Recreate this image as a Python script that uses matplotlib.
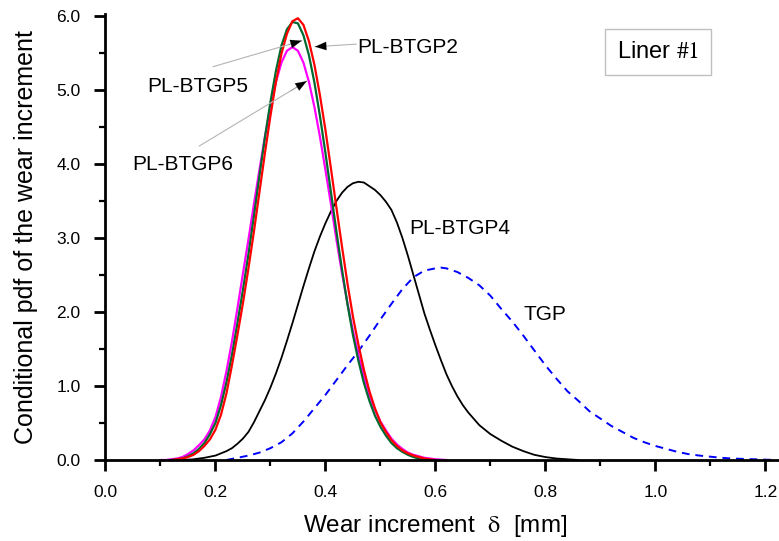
import matplotlib
matplotlib.use('Agg')
import matplotlib.pyplot as plt
from matplotlib.ticker import MultipleLocator, FormatStrFormatter

plt.rcParams['font.family'] = ['Liberation Sans', 'DejaVu Sans']
plt.rcParams['mathtext.fontset'] = 'stix'

# conditional pdf curves, wear increment delta [mm] vs density
x_btgp2 = [0.12, 0.13, 0.14, 0.15, 0.16, 0.17, 0.18, 0.19, 0.20, 0.21, 0.22, 0.23, 0.24,
           0.25, 0.26, 0.27, 0.28, 0.29, 0.30, 0.31, 0.32, 0.33, 0.34, 0.35, 0.36, 0.37,
           0.38, 0.39, 0.40, 0.41, 0.42, 0.43, 0.44, 0.45, 0.46, 0.47, 0.48, 0.49, 0.50,
           0.51, 0.52, 0.53, 0.54, 0.55, 0.56, 0.57, 0.58, 0.59, 0.60]
y_btgp2 = [0.00, 0.01, 0.02, 0.04, 0.07, 0.12, 0.19, 0.28, 0.41, 0.61, 0.90, 1.28, 1.69,
           2.12, 2.59, 3.09, 3.62, 4.15, 4.65, 5.11, 5.49, 5.76, 5.93, 5.97, 5.88, 5.66,
           5.34, 4.93, 4.46, 3.94, 3.41, 2.89, 2.39, 1.94, 1.56, 1.22, 0.93, 0.70, 0.51,
           0.38, 0.27, 0.19, 0.13, 0.09, 0.06, 0.04, 0.02, 0.01, 0.00]

x_btgp5 = [0.12, 0.13, 0.14, 0.15, 0.16, 0.17, 0.18, 0.19, 0.20, 0.21, 0.22, 0.23, 0.24,
           0.25, 0.26, 0.27, 0.28, 0.29, 0.30, 0.31, 0.32, 0.33, 0.34, 0.35, 0.36, 0.37,
           0.38, 0.39, 0.40, 0.41, 0.42, 0.43, 0.44, 0.45, 0.46, 0.47, 0.48, 0.49, 0.50,
           0.51, 0.52, 0.53, 0.54, 0.55, 0.56, 0.57, 0.58, 0.59]
y_btgp5 = [0.00, 0.01, 0.02, 0.05, 0.09, 0.15, 0.23, 0.35, 0.50, 0.74, 1.05, 1.42, 1.85,
           2.30, 2.78, 3.30, 3.84, 4.36, 4.84, 5.26, 5.60, 5.82, 5.92, 5.90, 5.74, 5.47,
           5.10, 4.65, 4.15, 3.62, 3.09, 2.58, 2.11, 1.69, 1.34, 1.04, 0.80, 0.60, 0.45,
           0.33, 0.23, 0.16, 0.11, 0.07, 0.04, 0.02, 0.01, 0.00]

x_btgp6 = [0.10, 0.11, 0.12, 0.13, 0.14, 0.15, 0.16, 0.17, 0.18, 0.19, 0.20, 0.21, 0.22,
           0.23, 0.24, 0.25, 0.26, 0.27, 0.28, 0.29, 0.30, 0.31, 0.32, 0.33, 0.34, 0.35,
           0.36, 0.37, 0.38, 0.39, 0.40, 0.41, 0.42, 0.43, 0.44, 0.45, 0.46, 0.47, 0.48,
           0.49, 0.50, 0.51, 0.52, 0.53, 0.54, 0.55, 0.56, 0.57, 0.58, 0.59, 0.60, 0.61, 0.62]
y_btgp6 = [0.00, 0.00, 0.01, 0.02, 0.04, 0.08, 0.13, 0.20, 0.28, 0.40, 0.58, 0.85, 1.20,
           1.60, 2.05, 2.52, 2.98, 3.46, 3.92, 4.37, 4.77, 5.11, 5.37, 5.53, 5.58, 5.53,
           5.37, 5.11, 4.77, 4.37, 3.92, 3.46, 2.98, 2.53, 2.12, 1.75, 1.42, 1.13, 0.88,
           0.68, 0.52, 0.40, 0.29, 0.21, 0.15, 0.10, 0.07, 0.05, 0.03, 0.02, 0.01, 0.005, 0.00]

x_btgp4 = [0.14, 0.16, 0.18, 0.20, 0.22, 0.23, 0.24, 0.25, 0.26, 0.27, 0.28, 0.29, 0.30,
           0.31, 0.32, 0.33, 0.34, 0.35, 0.36, 0.37, 0.38, 0.39, 0.40, 0.41, 0.42, 0.43,
           0.44, 0.45, 0.46, 0.47, 0.48, 0.49, 0.50, 0.51, 0.52, 0.53, 0.54, 0.55, 0.56,
           0.57, 0.58, 0.59, 0.60, 0.61, 0.62, 0.63, 0.64, 0.65, 0.66, 0.68, 0.70, 0.72,
           0.74, 0.76, 0.78, 0.80, 0.82, 0.84, 0.86]
y_btgp4 = [0.00, 0.01, 0.03, 0.06, 0.12, 0.16, 0.22, 0.29, 0.38, 0.51, 0.66, 0.81, 0.98,
           1.17, 1.38, 1.61, 1.85, 2.10, 2.35, 2.59, 2.82, 3.02, 3.20, 3.36, 3.50, 3.61,
           3.69, 3.74, 3.76, 3.75, 3.70, 3.65, 3.58, 3.49, 3.38, 3.21, 3.00, 2.76, 2.50,
           2.24, 1.98, 1.76, 1.55, 1.35, 1.16, 1.00, 0.86, 0.74, 0.64, 0.47, 0.35, 0.26,
           0.18, 0.12, 0.07, 0.04, 0.02, 0.01, 0.00]

x_tgp = [0.22, 0.24, 0.26, 0.28, 0.30, 0.32, 0.34, 0.36, 0.38, 0.40, 0.42, 0.44, 0.46,
         0.48, 0.50, 0.52, 0.54, 0.56, 0.58, 0.60, 0.61, 0.62, 0.64, 0.66, 0.68, 0.70,
         0.72, 0.74, 0.76, 0.78, 0.80, 0.82, 0.84, 0.86, 0.88, 0.90, 0.92, 0.94, 0.96,
         0.98, 1.00, 1.02, 1.04, 1.06, 1.08, 1.10, 1.12, 1.14, 1.16, 1.18, 1.20, 1.22]
y_tgp = [0.00, 0.03, 0.06, 0.10, 0.16, 0.24, 0.36, 0.52, 0.70, 0.88, 1.08, 1.28, 1.47,
         1.68, 1.90, 2.11, 2.31, 2.47, 2.56, 2.59, 2.60, 2.59, 2.54, 2.46, 2.36, 2.22,
         2.04, 1.87, 1.68, 1.48, 1.28, 1.10, 0.93, 0.80, 0.66, 0.56, 0.46, 0.38, 0.30,
         0.24, 0.19, 0.15, 0.11, 0.08, 0.06, 0.045, 0.03, 0.02, 0.015, 0.01, 0.005, 0.00]

fig = plt.figure(figsize=(7.79, 5.41), dpi=100)
ax = fig.add_axes([0.1354, 0.1497, 0.8633, 0.8248])

ax.plot(x_tgp, y_tgp, color='#0000ff', lw=1.4, ls=(0, (4, 3)))
ax.plot(x_btgp4, y_btgp4, color='black', lw=1.3)
ax.plot(x_btgp6, y_btgp6, color='#ff00ff', lw=1.6)
ax.plot(x_btgp5, y_btgp5, color='#006a30', lw=1.6)
ax.plot(x_btgp2, y_btgp2, color='#ff0000', lw=1.6)

ax.set_xlim(0, 1.223)
ax.set_ylim(0, 6.03)
for side in ('top', 'right'):
    ax.spines[side].set_visible(False)
for side in ('left', 'bottom'):
    ax.spines[side].set_linewidth(2.0)

ax.xaxis.set_major_locator(MultipleLocator(0.2))
ax.xaxis.set_minor_locator(MultipleLocator(0.1))
ax.yaxis.set_major_locator(MultipleLocator(1.0))
ax.yaxis.set_minor_locator(MultipleLocator(0.5))
ax.xaxis.set_major_formatter(FormatStrFormatter('%.1f'))
ax.yaxis.set_major_formatter(FormatStrFormatter('%.1f'))
ax.tick_params(which='major', direction='out', length=8, width=2.0, labelsize=12.5, pad=10)
ax.tick_params(which='minor', direction='out', length=4.5, width=1.6)

ax.set_xlabel('Wear increment  $\\mathrm{\\delta}$  [mm]', fontsize=17.5)
ax.set_ylabel('Conditional pdf of the wear increment', fontsize=18)
ax.xaxis.set_label_coords(0.6 / 1.223, -0.119)
ax.yaxis.set_label_coords(-0.100, 0.5)

# curve labels with leader lines
label_kw = dict(fontsize=15, ha='center', va='center')
ax.text(0.55, 5.58, 'PL-BTGP2', **label_kw)
ax.text(0.168, 5.05, 'PL-BTGP5', **label_kw)
ax.text(0.141, 3.99, 'PL-BTGP6', **label_kw)
ax.text(0.644, 3.13, 'PL-BTGP4', **label_kw)
ax.text(0.80, 1.96, 'TGP', **label_kw)

leaders = [((0.456, 5.62), (0.381, 5.585)),
           ((0.1955, 5.315), (0.357, 5.666)),
           ((0.1705, 4.243), (0.366, 5.12))]
for start, tip in leaders:
    ax.annotate('', xy=tip, xytext=start,
                arrowprops=dict(arrowstyle='-', color='#b4b4b4', lw=0.8,
                                shrinkA=0, shrinkB=0))
    back = (tip[0] + (start[0] - tip[0]) * 0.15, tip[1] + (start[1] - tip[1]) * 0.15)
    ax.annotate('', xy=tip, xytext=back,
                arrowprops=dict(arrowstyle='-|>,head_length=0.8,head_width=0.3',
                                color='black', lw=0.1, shrinkA=0, shrinkB=0))

ax.text(1.0045, 5.51, 'Liner $\\mathrm{\\#1}$', fontsize=17, ha='center', va='center',
        bbox=dict(boxstyle='square,pad=0.5', fc='white', ec='#c0c0c0', lw=1.0))

fig.savefig('out.png', dpi=100)
